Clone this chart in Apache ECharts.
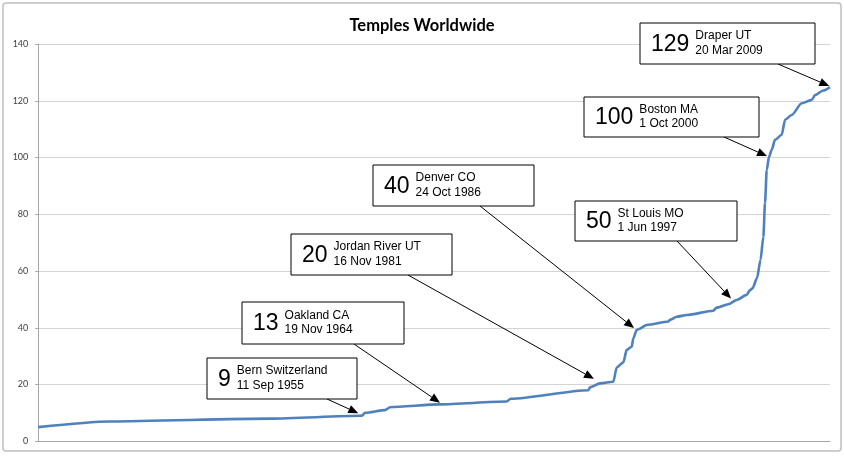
<!DOCTYPE html>
<html><head><meta charset="utf-8">
<script src="https://cdn.jsdelivr.net/npm/echarts@6/dist/echarts.min.js"></script>
<style>html,body{margin:0;padding:0;background:#fff}#c{width:844px;height:456px}</style>
</head><body><div id="c"></div>
<script>
// Curve (x estimated as decimal year along the axis, y = number of temples)
const years = [1919.0,1927.2,1945.5,1955.97,1956.35,1958.63,1959.2,1964.9,1972.54,1973.0,1981.87,1982.07,1983.21,1984.73,1985.12,1985.87,1986.26,1986.83,1987.02,1987.4,1987.59,1988.55,1991.02,1991.21,1991.98,1993.12,1996.16,1996.55,1997.87,1998.84,1999.98,2000.36,2000.64,2001.16,2001.56,2001.88,2002.07,2002.27,2002.53,2002.84,2003.21,2003.98,2004.36,2005.12,2006.27,2007.41,2007.79,2008.73,2009.5];
const counts = [5,7,8,9,10,11,12,13,14,15,18,19,20.4,21,26,27.8,32.2,33.3,36.3,39.2,39.5,41,42.2,42.8,43.9,44.5,46,47.1,48.3,49.8,51.6,53.3,53.9,57.5,64,72,84,95.6,100.3,102.7,106.2,108,113.3,115,119.1,120.3,122,123.6,124.8];

// Annotations
const annNumbers = ['9','13','20','40','50','100','129'];
const annNames = ['Bern Switzerland','Oakland CA','Jordan River UT','Denver CO','St Louis MO','Boston MA','Draper UT'];
const annDates = ['11 Sep 1955','19 Nov 1964','16 Nov 1981','24 Oct 1986','1 Jun 1997','1 Oct 2000','20 Mar 2009'];
const annTipYears = [1955.58,1964.92,1982.52,1987.1,1998.19,2002.3,2009.42];
const annTipValues = [9.9,13.6,22.0,39.9,50.3,100.5,125.2];

// Layout of the callout boxes (pixels): left, top, width, height, arrow start x
const boxLayout = [
  [207,358,150,41,327],
  [242,302,162,42,354],
  [291,234,161,41,408],
  [373,165,161,41,480],
  [575,201,162,40,677],
  [584,97,175,40,724],
  [640,23,175,41,778]
];

const chart = echarts.init(document.getElementById('c'));
chart.setOption({
  animation:false,
  backgroundColor:'#fff',
  title:{text:'Temples Worldwide',left:'center',top:12,
    textStyle:{fontFamily:'Lato',fontWeight:'bold',fontSize:16.5,color:'#000'}},
  grid:{left:38.3,right:14,top:44,bottom:14.7},
  xAxis:{type:'value',min:1919,max:2009.5,
    axisLine:{show:true,lineStyle:{color:'#a6a6a6',width:1}},
    axisTick:{show:false},axisLabel:{show:false},splitLine:{show:false}},
  yAxis:{type:'value',min:0,max:140,interval:20,
    axisLine:{show:true,lineStyle:{color:'#a6a6a6',width:1}},
    axisTick:{show:true,length:3,lineStyle:{color:'#a6a6a6'}},
    axisLabel:{margin:10,fontSize:9,color:'#404040',fontFamily:'Lato'},
    splitLine:{lineStyle:{color:'#d4d4d4',width:1.2}}},
  series:[{type:'line',data:years.map((y,i)=>[y,counts[i]]),showSymbol:false,
    smooth:0.25,smoothMonotone:'x',
    lineStyle:{color:'#4f81bd',width:2.6},z:3}]
});

const canvas = document.createElement('canvas');
const ctx = canvas.getContext('2d');
ctx.font = '23px "Liberation Sans"';
const graphics = [{type:'rect',shape:{x:3,y:3,width:838,height:448,r:3},
  style:{fill:'none',stroke:'#bfbfbf',lineWidth:1.5},silent:true,z:0}];
annNumbers.forEach((num,i)=>{
  const [l,t,w,h,sx] = boxLayout[i];
  const tip = chart.convertToPixel({gridIndex:0},[annTipYears[i],annTipValues[i]]);
  const sy = t+h;
  const dx = tip[0]-sx, dy = tip[1]-sy, len = Math.hypot(dx,dy);
  const ux = dx/len, uy = dy/len, al = 10, aw = 4.2;
  const bx = tip[0]-ux*al, by = tip[1]-uy*al;
  graphics.push({type:'line',shape:{x1:sx,y1:sy,x2:bx,y2:by},style:{stroke:'#000',lineWidth:1},z:10});
  graphics.push({type:'polygon',shape:{points:[[tip[0],tip[1]],[bx-uy*aw,by+ux*aw],[bx+uy*aw,by-ux*aw]]},style:{fill:'#000'},z:10});
  graphics.push({type:'rect',shape:{x:l,y:t,width:w,height:h},style:{fill:'#fff',stroke:'#000',lineWidth:1},z:11});
  const nx = l+11;
  const nw = ctx.measureText(num).width;
  graphics.push({type:'text',x:nx,y:t+h/2+1,style:{text:num,fontSize:23,fontFamily:'Liberation Sans',fill:'#000',align:'left',verticalAlign:'middle'},z:12});
  graphics.push({type:'text',x:nx+nw+6,y:t+h/2-0.5,style:{text:annNames[i]+'\n'+annDates[i],fontSize:12,lineHeight:14.5,fontFamily:'Liberation Sans',fill:'#000',align:'left',verticalAlign:'middle'},z:12});
});
chart.setOption({graphic:graphics});
</script></body></html>
